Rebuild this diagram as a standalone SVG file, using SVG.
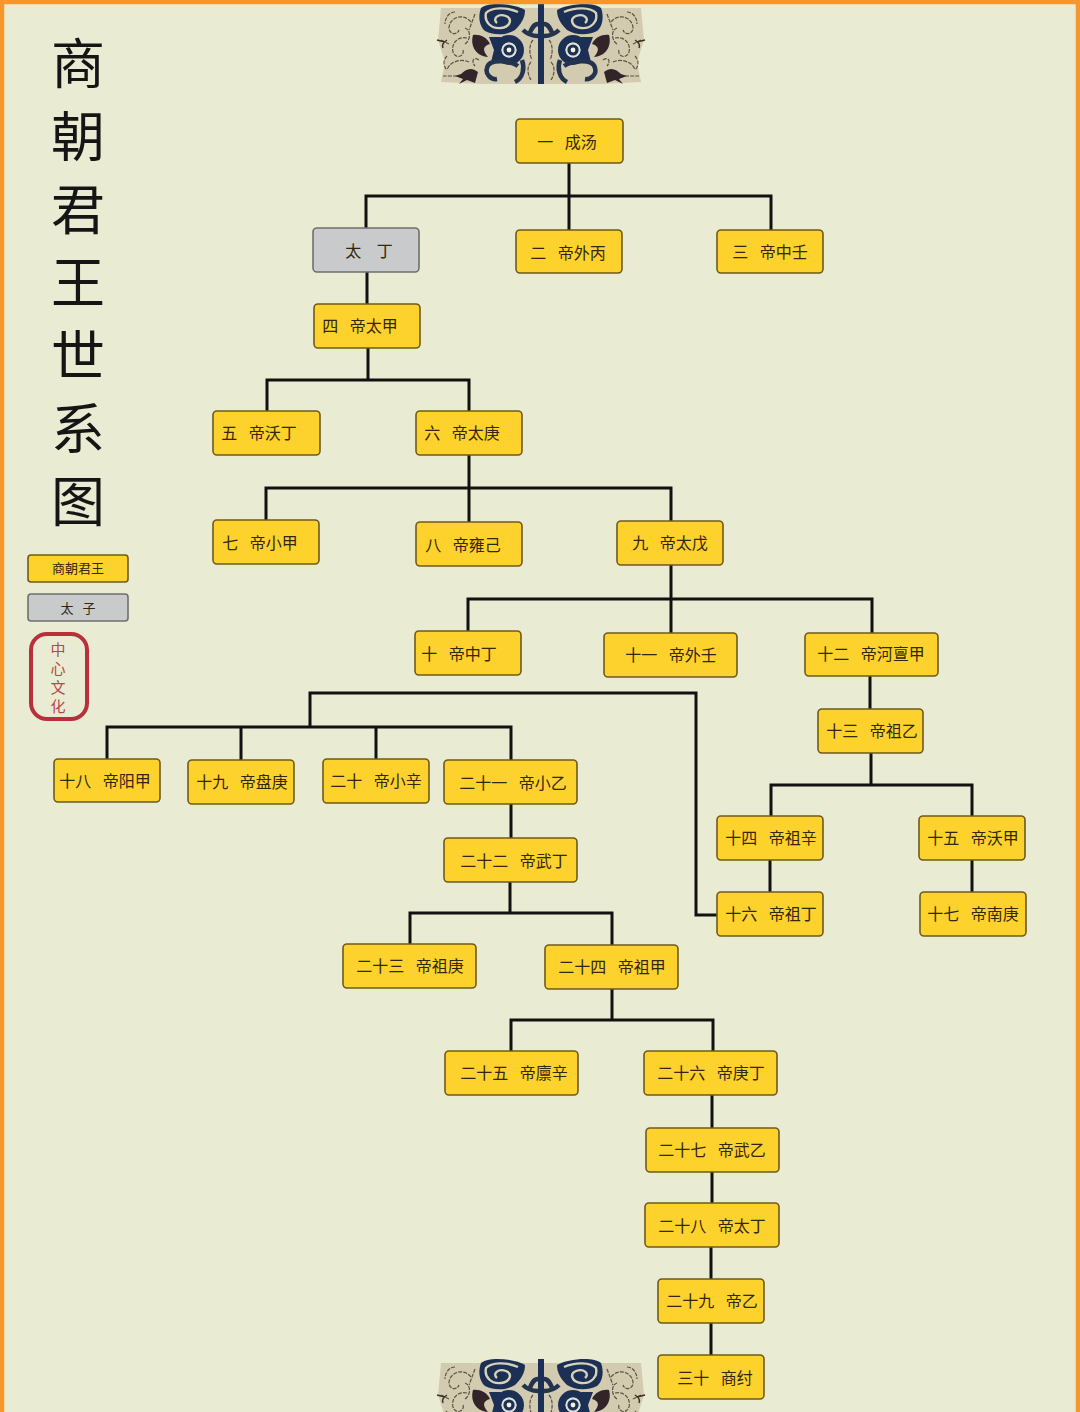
<svg xmlns="http://www.w3.org/2000/svg" xmlns:xlink="http://www.w3.org/1999/xlink" width="1080" height="1412" viewBox="0 0 1080 1412">
<style>
.n{fill:#fdd22c;stroke:#6e5a1c;stroke-width:1.6}
.g{fill:#c9cacc;stroke:#6f6f6f;stroke-width:1.6}
.t{font-family:"Noto Sans CJK SC","Noto Sans CJK TC",sans-serif;font-size:16px;fill:#33270a;text-anchor:middle;word-spacing:8px;dominant-baseline:central;transform:translateY(-1px)}
.title{font-family:"Noto Sans CJK SC","Noto Sans CJK TC",sans-serif;font-size:54px;fill:#151515;text-anchor:middle;dominant-baseline:central;transform:translateY(-5px)}
.seal{font-family:"Noto Sans CJK SC","Noto Sans CJK TC",sans-serif;font-size:15px;fill:#b5474c;text-anchor:middle;dominant-baseline:central}
.c{fill:none;stroke:#111;stroke-width:3}
.nv{fill:#1c2f55}
.dk{fill:#33242a}
.sc{fill:none;stroke:#5d5140;stroke-width:1.2;stroke-dasharray:4 1.2}
.sn{fill:none;stroke:#24344f;stroke-width:4.5}
.sp{fill:none;stroke:#d8d3b8;stroke-width:2.4}
</style>
<defs>
<g id="half">
<path d="M3 8H100L103 40 96 62 100 82 62 84H3Z" fill="#d3cbb0"/>
<path class="nv" d="M-3 4H3V84H-3Z"/>
<path class="nv" d="M16 10C26 4 52 1 60 8 63 16 62 26 56 31 46 36 34 35 26 30 20 24 16 18 16 10Z"/>
<path class="sp" d="M23 12C34 7 50 7 55 13 57 22 50 29 40 28 31 27 28 19 35 16 43 13 49 19 44 23"/>
<path class="sn" stroke-width="2.2" d="M3 24C8 24 10 30 12 35M3 36C10 36 14 34 18 30"/>
<circle cx="32" cy="50" r="15" class="nv"/>
<circle cx="32" cy="50" r="7.5" fill="#dfe3d6"/>
<circle cx="32" cy="50" r="5.6" class="nv"/>
<circle cx="32" cy="50" r="2.4" fill="#f2f2e4"/>
<path class="nv" d="M40 37H52L47 50 50 62H34L44 52Z"/>
<circle cx="32" cy="50" r="7.5" fill="#dfe3d6"/>
<circle cx="32" cy="50" r="5.6" class="nv"/>
<circle cx="32" cy="50" r="2.4" fill="#f2f2e4"/>
<path class="dk" d="M51 44C54 37 62 34 68 35 71 46 65 56 53 57 59 50 58 46 51 44Z"/>
<path class="sn" d="M23 66C30 61 52 58 54 68 56 74 50 80 44 79"/>
<path class="sn" d="M19 60C16 68 18 78 26 82"/>
<path class="sc" d="M8 40C12 44 12 54 9 60M10 62C14 66 14 74 10 80"/>
<path class="dk" d="M63 72C70 66 76 70 80 74L86 76 78 79 82 84 74 80 66 83Z"/>
<path class="sc" d="M70 22C78 12 92 18 92 28 92 34 84 36 82 30M74 38C84 36 90 44 88 52 85 60 76 56 78 50M72 62C80 58 92 62 94 70M84 76H98M76 44C70 40 70 30 76 28"/>
<path class="sc" d="M66 14L72 30M92 44L100 40M94 56C98 60 98 66 94 70M62 60C68 56 70 62 66 66M86 12C92 12 96 18 96 24"/>
<path d="M96 42L104 40M94 40Q100 44 98 48" fill="none" stroke="#3b3026" stroke-width="1.5"/>
</g>
<g id="orn"><use href="#half"/><use href="#half" transform="scale(-1,1)"/></g>
</defs>
<rect width="1080" height="1412" fill="#e9ecd2"/>
<g id="ornament-top"><use href="#orn" transform="translate(541,0)"/></g>
<g id="ornament-bottom"><use href="#orn" transform="translate(541,1355)"/></g>
<path id="frame" d="M2 1412V2H1078V1412" fill="none" stroke="#f7962a" stroke-width="4.5"/>

<g id="title">
<text class="title" x="78" y="65">商</text>
<text class="title" x="78" y="138">朝</text>
<text class="title" x="78" y="211">君</text>
<text class="title" x="78" y="284">王</text>
<text class="title" x="78" y="357">世</text>
<text class="title" x="78" y="430">系</text>
<text class="title" x="78" y="503">图</text>
</g>

<g id="connectors">
<path class="c" d="M569 163V230M366 228V196H771V230"/>
<path class="c" d="M367 272V304"/>
<path class="c" d="M368 348V380M267 411V380H469V411"/>
<path class="c" d="M469 455V522M266 520V488H671V521"/>
<path class="c" d="M671 565V633M468 631V599H872V633"/>
<path class="c" d="M870 676V709"/>
<path class="c" d="M871 753V785M771 816V785H972V816"/>
<path class="c" d="M770 860V892M972 860V892"/>
<path class="c" d="M717 915H696V693H310V727M107 759V727H511V760M241 727V760M376 727V759"/>
<path class="c" d="M511 804V838"/>
<path class="c" d="M510 882V913M410 944V913H612V945"/>
<path class="c" d="M612 989V1020M511 1051V1020H713V1051"/>
<path class="c" d="M712 1095V1128M712 1172V1203M711 1247V1279M711 1323V1355"/>
</g>

<g id="legend-king"><rect class="n" x="28" y="555" width="100" height="27" rx="3"/><text class="t" x="78" y="568" style="font-size:13px">商朝君王</text></g>
<g id="legend-prince"><rect class="g" x="28" y="594" width="100" height="27" rx="3"/><text class="t" x="78" y="608" style="font-size:13px;word-spacing:6px">太 子</text></g>
<g id="seal"><rect x="31" y="634" width="56" height="85" rx="16" fill="none" stroke="#b9303c" stroke-width="4"/>
<text class="seal" x="58" y="648">中</text><text class="seal" x="58" y="667">心</text><text class="seal" x="58" y="686">文</text><text class="seal" x="58" y="705">化</text></g>

<g id="n1"><rect class="n" x="516" y="119" width="107" height="44" rx="4"/><text class="t" x="567" y="142">一 成汤</text></g>
<g id="prince"><rect class="g" x="313" y="228" width="106" height="44" rx="4"/><text class="t" x="369" y="251" style="word-spacing:12px">太 丁</text></g>
<g id="n2"><rect class="n" x="516" y="230" width="106" height="43" rx="4"/><text class="t" x="568" y="253">二 帝外丙</text></g>
<g id="n3"><rect class="n" x="717" y="230" width="106" height="43" rx="4"/><text class="t" x="770" y="252">三 帝中壬</text></g>
<g id="n4"><rect class="n" x="314" y="304" width="106" height="44" rx="4"/><text class="t" x="360" y="326">四 帝太甲</text></g>
<g id="n5"><rect class="n" x="213" y="411" width="107" height="44" rx="4"/><text class="t" x="259" y="433">五 帝沃丁</text></g>
<g id="n6"><rect class="n" x="416" y="411" width="106" height="44" rx="4"/><text class="t" x="462" y="433">六 帝太庚</text></g>
<g id="n7"><rect class="n" x="213" y="520" width="106" height="44" rx="4"/><text class="t" x="260" y="543">七 帝小甲</text></g>
<g id="n8"><rect class="n" x="416" y="522" width="106" height="44" rx="4"/><text class="t" x="463" y="545">八 帝雍己</text></g>
<g id="n9"><rect class="n" x="617" y="521" width="106" height="44" rx="4"/><text class="t" x="670" y="543">九 帝太戊</text></g>
<g id="n10"><rect class="n" x="415" y="631" width="106" height="44" rx="4"/><text class="t" x="459" y="654">十 帝中丁</text></g>
<g id="n11"><rect class="n" x="604" y="633" width="133" height="44" rx="4"/><text class="t" x="671" y="655">十一 帝外壬</text></g>
<g id="n12"><rect class="n" x="805" y="633" width="133" height="43" rx="4"/><text class="t" x="871" y="654">十二 帝河亶甲</text></g>
<g id="n13"><rect class="n" x="818" y="709" width="105" height="44" rx="4"/><text class="t" x="872" y="731">十三 帝祖乙</text></g>
<g id="n14"><rect class="n" x="717" y="816" width="106" height="44" rx="4"/><text class="t" x="771" y="838">十四 帝祖辛</text></g>
<g id="n15"><rect class="n" x="919" y="816" width="106" height="44" rx="4"/><text class="t" x="973" y="838">十五 帝沃甲</text></g>
<g id="n16"><rect class="n" x="717" y="892" width="106" height="44" rx="4"/><text class="t" x="771" y="914">十六 帝祖丁</text></g>
<g id="n17"><rect class="n" x="920" y="892" width="106" height="44" rx="4"/><text class="t" x="973" y="914">十七 帝南庚</text></g>
<g id="n18"><rect class="n" x="54" y="759" width="106" height="43" rx="4"/><text class="t" x="105" y="781">十八 帝阳甲</text></g>
<g id="n19"><rect class="n" x="188" y="760" width="106" height="44" rx="4"/><text class="t" x="242" y="782">十九 帝盘庚</text></g>
<g id="n20"><rect class="n" x="323" y="759" width="106" height="44" rx="4"/><text class="t" x="376" y="781">二十 帝小辛</text></g>
<g id="n21"><rect class="n" x="444" y="760" width="133" height="44" rx="4"/><text class="t" x="513" y="783">二十一 帝小乙</text></g>
<g id="n22"><rect class="n" x="444" y="838" width="133" height="44" rx="4"/><text class="t" x="514" y="861">二十二 帝武丁</text></g>
<g id="n23"><rect class="n" x="343" y="944" width="133" height="44" rx="4"/><text class="t" x="410" y="966">二十三 帝祖庚</text></g>
<g id="n24"><rect class="n" x="545" y="945" width="133" height="44" rx="4"/><text class="t" x="612" y="967">二十四 帝祖甲</text></g>
<g id="n25"><rect class="n" x="445" y="1051" width="133" height="44" rx="4"/><text class="t" x="514" y="1073">二十五 帝廪辛</text></g>
<g id="n26"><rect class="n" x="644" y="1051" width="133" height="44" rx="4"/><text class="t" x="711" y="1073">二十六 帝庚丁</text></g>
<g id="n27"><rect class="n" x="646" y="1128" width="133" height="44" rx="4"/><text class="t" x="712" y="1150">二十七 帝武乙</text></g>
<g id="n28"><rect class="n" x="645" y="1203" width="134" height="44" rx="4"/><text class="t" x="712" y="1226">二十八 帝太丁</text></g>
<g id="n29"><rect class="n" x="658" y="1279" width="106" height="44" rx="4"/><text class="t" x="712" y="1301">二十九 帝乙</text></g>
<g id="n30"><rect class="n" x="658" y="1355" width="106" height="44" rx="4"/><text class="t" x="715" y="1378">三十 商纣</text></g>
</svg>
